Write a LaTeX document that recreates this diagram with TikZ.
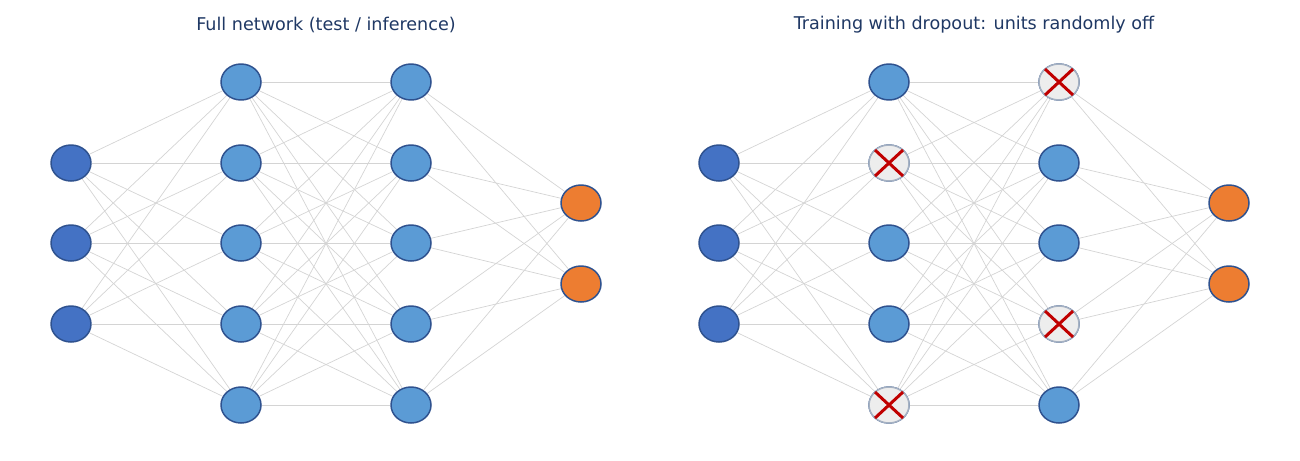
\documentclass[tikz,border=0pt]{standalone}
\usepackage{fontspec}
\setmainfont{DejaVu Sans}
\usetikzlibrary{shapes.geometric, backgrounds, calc}

\definecolor{titleblue}{HTML}{1F3864}
\definecolor{inblue}{HTML}{4472C4}
\definecolor{hidblue}{HTML}{5B9BD5}
\definecolor{outorange}{HTML}{ED7D31}
\definecolor{rimblue}{HTML}{2F528F}
\definecolor{offgray}{HTML}{EDEDED}
\definecolor{offrim}{HTML}{A5B1C2}
\definecolor{crossred}{HTML}{C00000}
\definecolor{edgegray}{HTML}{D4D4D4}

\tikzset{
  unit/.style = {ellipse, draw = rimblue, line width = 0.85pt,
    minimum width = 0.8cm, minimum height = 0.72cm, inner sep = 0pt},
  in unit/.style = {unit, fill = inblue},
  hid unit/.style = {unit, fill = hidblue},
  out unit/.style = {unit, fill = outorange},
  off unit/.style = {unit, fill = offgray, draw = offrim},
  link/.style = {draw = edgegray, line width = 0.4pt},
  cross/.style = {draw = crossred, line width = 1.7pt},
  heading/.style = {text = titleblue, font = \fontsize{10}{12}\selectfont}
}

\begin{document}
\begin{tikzpicture}[x = 0.02cm, y = -0.02cm]
\useasboundingbox (0, 0) rectangle (1300, 460);

\node[heading] (title-L) at (326, 25) {Full network (test / inference)};
\node[heading] (title-R) at (974, 25) {Training with dropout: units randomly off};

% both networks, right one shifted by 648px
\foreach \net/\dx in {L/0, R/648} {
  \foreach \i/\y in {1/163, 2/243, 3/324}
    \node[in unit] (\net-i\i) at (71 + \dx, \y) {};
  \foreach \i/\y in {1/82, 2/163, 3/243, 4/324, 5/405} {
    \node[hid unit] (\net-a\i) at (241 + \dx, \y) {};
    \node[hid unit] (\net-b\i) at (411 + \dx, \y) {};
  }
  \foreach \i/\y in {1/203, 2/284}
    \node[out unit] (\net-o\i) at (581 + \dx, \y) {};
  \begin{scope}[on background layer]
    \foreach \i in {1,...,3}
      \foreach \j in {1,...,5}
        \draw[link] (\net-i\i) -- (\net-a\j);
    \foreach \i in {1,...,5}
      \foreach \j in {1,...,5}
        \draw[link] (\net-a\i) -- (\net-b\j);
    \foreach \i in {1,...,5}
      \foreach \j in {1,2}
        \draw[link] (\net-b\i) -- (\net-o\j);
  \end{scope}
}

% dropped units
\foreach \n in {R-a2, R-a5, R-b1, R-b4} {
  \node[off unit] at (\n) {};
  \draw[cross] ($(\n) + (-14, -13)$) -- ($(\n) + (14, 13)$);
  \draw[cross] ($(\n) + (-14, 13)$) -- ($(\n) + (14, -13)$);
}
\end{tikzpicture}
\end{document}
